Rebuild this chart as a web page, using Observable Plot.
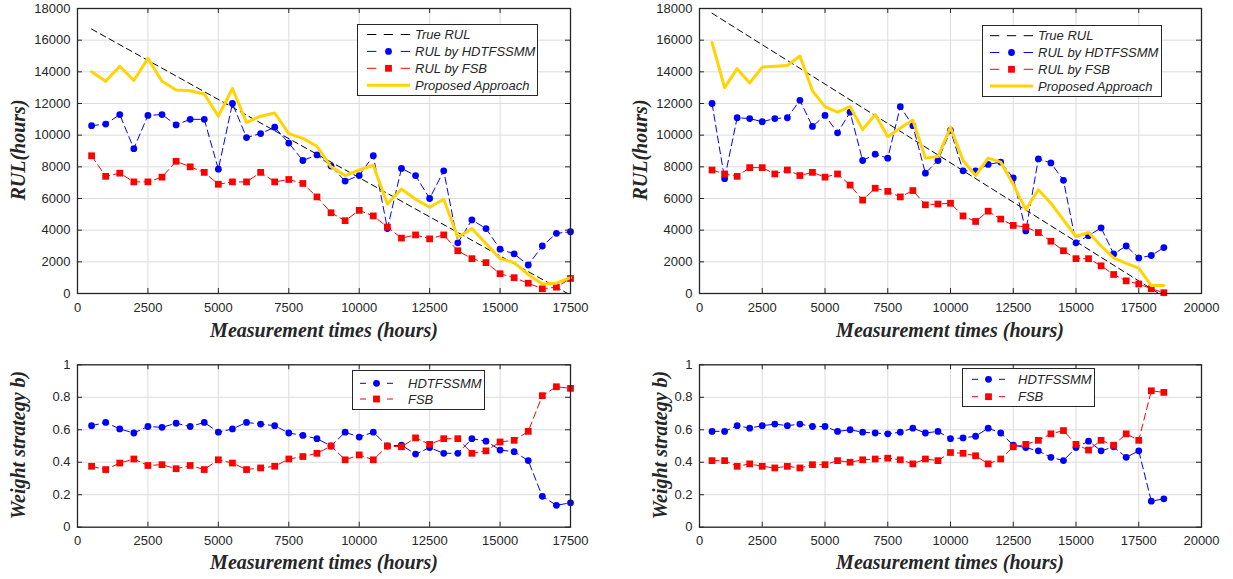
<!DOCTYPE html>
<html><head><meta charset="utf-8">
<script src="https://cdn.jsdelivr.net/npm/d3@7"></script>
<script src="https://cdn.jsdelivr.net/npm/@observablehq/plot@0.6"></script>
<style>
body{margin:0;background:#fff;}
#root{position:relative;width:1233px;height:579px;overflow:hidden;background:#fff;font-family:"Liberation Sans",Arial,sans-serif;}
.panel{position:absolute;}
.title{position:absolute;font-family:"Liberation Serif","Times New Roman",serif;font-weight:bold;font-style:italic;font-size:20px;color:#262626;white-space:nowrap;transform:translate(-50%,-50%);line-height:1;}
.vtitle{transform:translate(-50%,-50%) rotate(-90deg);}
.legend{position:absolute;border:1px solid #262626;background:#fff;box-sizing:border-box;}
</style></head>
<body><div id="root"></div>
<script>
// ---------- DATA ----------
const timesL = [500,1000,1500,2000,2500,3000,3500,4000,4500,5000,5500,6000,6500,7000,7500,8000,8500,9000,9500,10000,10500,11000,11500,12000,12500,13000,13500,14000,14500,15000,15500,16000,16500,17000,17500];
const timesR = [500,1000,1500,2000,2500,3000,3500,4000,4500,5000,5500,6000,6500,7000,7500,8000,8500,9000,9500,10000,10500,11000,11500,12000,12500,13000,13500,14000,14500,15000,15500,16000,16500,17000,17500,18000,18500];

const trueTimesL = [500, 17400];
const trueRulL = [16700, 0];
const trueTimesR = [500, 18300];
const trueRulR = [17700, 0];

const rulHdtL = [10600,10700,11300,9150,11250,11300,10650,11000,11000,7850,12000,9850,10100,10500,9500,8400,8750,8050,7100,7450,8700,4100,7900,7450,6000,7750,3200,4650,4100,2800,2500,1800,3000,3800,3900];
const rulFsbL = [8700,7400,7600,7050,7050,7350,8350,8000,7650,6900,7050,7050,7650,7050,7200,6950,6100,5100,4600,5250,4900,4200,3500,3700,3450,3700,2700,2200,1950,1250,1000,650,300,400,950];
const rulPropL = [14000,13400,14350,13450,14850,13400,12850,12800,12600,11200,12950,10800,11200,11400,10100,9800,9300,8000,7450,7800,8100,5650,6600,5950,5450,5950,3550,4100,3150,2200,1950,1200,600,650,1000];

const rulHdtR = [12000,7250,11100,11050,10850,11050,11100,12200,10550,11250,10150,11450,8400,8800,8550,11800,10600,7600,8400,10300,7750,7750,8150,8300,7300,3950,8500,8250,7150,3200,3650,4150,2500,3000,2250,2400,2900];
const rulFsbR = [7800,7550,7400,7950,7950,7550,7800,7450,7650,7350,7550,6850,5900,6650,6450,6100,6500,5600,5650,5700,4900,4550,5200,4700,4300,4200,3850,3300,2700,2200,2200,1750,1200,800,600,300,50];
const rulPropR = [15850,13000,14200,13300,14300,14350,14400,15000,12800,11800,11450,11800,10350,11300,9900,10450,10950,8550,8650,10500,8400,7450,8550,8300,6900,5300,6550,5700,4650,3600,3850,3000,2250,1900,1600,500,500];

const wHdtL = [0.625,0.645,0.605,0.58,0.62,0.615,0.64,0.62,0.645,0.585,0.605,0.645,0.635,0.625,0.58,0.565,0.545,0.50,0.585,0.555,0.585,0.50,0.505,0.45,0.49,0.455,0.455,0.545,0.53,0.475,0.465,0.41,0.19,0.135,0.15];
const wFsbL = [0.375,0.355,0.395,0.42,0.38,0.385,0.36,0.38,0.355,0.415,0.395,0.355,0.365,0.375,0.42,0.435,0.455,0.50,0.415,0.445,0.415,0.50,0.495,0.55,0.51,0.545,0.545,0.455,0.47,0.525,0.535,0.59,0.81,0.865,0.855];
const wHdtR = [0.59,0.59,0.625,0.61,0.625,0.635,0.625,0.635,0.62,0.62,0.59,0.60,0.585,0.58,0.575,0.585,0.61,0.58,0.59,0.545,0.55,0.56,0.61,0.58,0.505,0.49,0.47,0.43,0.41,0.49,0.53,0.47,0.495,0.43,0.47,0.16,0.175];
const wFsbR = [0.41,0.41,0.375,0.39,0.375,0.365,0.375,0.365,0.385,0.385,0.41,0.40,0.415,0.42,0.425,0.415,0.39,0.42,0.41,0.46,0.455,0.44,0.39,0.42,0.495,0.51,0.535,0.575,0.595,0.51,0.475,0.535,0.505,0.575,0.535,0.84,0.83];

const xTicksL = [0,2500,5000,7500,10000,12500,15000,17500];
const xTicksR = [0,2500,5000,7500,10000,12500,15000,17500,20000];
const yTicksRul = [0,2000,4000,6000,8000,10000,12000,14000,16000,18000];
const yTicksW = [0,0.2,0.4,0.6,0.8,1];

const labelsRul = ["True RUL","RUL by HDTFSSMM","RUL by FSB","Proposed Approach"];
const labelsW = ["HDTFSSMM","FSB"];
const xTitle = "Measurement times (hours)";
const yTitleRul = "RUL(hours)";
const yTitleW = "Weight strategy b)";

// ---------- STYLE ----------
const BLUE = "#0000ff", RED = "#ff0000", YELLOW = "#ffd400", INK = "#262626", GRID = "#dcdcdc";
const DASH = "7,4";

const root = document.getElementById("root");

function panel(cfg) {
  const iw = cfg.width - cfg.ml - cfg.mr;
  const ih = cfg.height - cfg.mt - cfg.mb;
  const marks = [
    Plot.gridX(cfg.xTicks, {stroke: GRID, strokeOpacity: 1, strokeWidth: 1}),
    Plot.gridY(cfg.yTicks, {stroke: GRID, strokeOpacity: 1, strokeWidth: 1}),
    ...cfg.series,
    Plot.ruleX(cfg.xTicks, {x: d => d, insetTop: ih - 5, stroke: INK, strokeWidth: 1}),
    Plot.ruleX(cfg.xTicks, {x: d => d, insetBottom: ih - 5, stroke: INK, strokeWidth: 1}),
    Plot.ruleY(cfg.yTicks, {y: d => d, insetRight: iw - 5, stroke: INK, strokeWidth: 1}),
    Plot.ruleY(cfg.yTicks, {y: d => d, insetLeft: iw - 5, stroke: INK, strokeWidth: 1}),
    Plot.frame({stroke: INK, strokeWidth: 1.3}),
    Plot.axisX(cfg.xTicks, {tickSize: 0, tickPadding: 9, tickFormat: d => String(d), label: null, fill: INK}),
    Plot.axisY(cfg.yTicks, {tickSize: 0, tickPadding: 7, tickFormat: d => String(d), label: null, fill: INK})
  ];
  const svg = Plot.plot({
    width: cfg.width, height: cfg.height,
    marginLeft: cfg.ml, marginRight: cfg.mr, marginTop: cfg.mt, marginBottom: cfg.mb,
    x: {domain: cfg.xDomain, label: null},
    y: {domain: cfg.yDomain, label: null},
    style: {fontFamily: "'Liberation Sans', Arial, sans-serif", fontSize: "13px", color: INK, background: "transparent", overflow: "visible"},
    marks
  });
  const div = document.createElement("div");
  div.className = "panel";
  div.style.left = cfg.left + "px";
  div.style.top = cfg.top + "px";
  div.appendChild(svg);
  root.appendChild(div);
}

function seriesLine(times, vals, color, dash, w) {
  return Plot.line(vals, {x: (d, i) => times[i], y: d => d, stroke: color, strokeWidth: w, strokeDasharray: dash});
}
function seriesDots(times, vals, color, symbol, r) {
  return Plot.dot(vals, {x: (d, i) => times[i], y: d => d, fill: color, stroke: "none", symbol, r});
}

function rulSeries(tt, tv, times, hdt, fsb, prop) {
  return [
    seriesLine(tt, tv, "#000", "6,4", 1),
    seriesLine(times, hdt, BLUE, DASH, 1),
    seriesDots(times, hdt, BLUE, "circle", 3.4),
    seriesLine(times, fsb, RED, DASH, 1),
    seriesDots(times, fsb, RED, "square", 3.8),
    seriesLine(times, prop, YELLOW, null, 3)
  ];
}
function wSeries(times, hdt, fsb) {
  return [
    seriesLine(times, hdt, BLUE, DASH, 1),
    seriesDots(times, hdt, BLUE, "circle", 3.4),
    seriesLine(times, fsb, RED, DASH, 1),
    seriesDots(times, fsb, RED, "square", 3.8)
  ];
}

panel({left: 0, top: 0, width: 620, height: 322, ml: 77, mr: 50, mt: 8, mb: 29,
  xDomain: [0, 17500], yDomain: [0, 18000], xTicks: xTicksL, yTicks: yTicksRul,
  series: rulSeries(trueTimesL, trueRulL, timesL, rulHdtL, rulFsbL, rulPropL)});
panel({left: 616, top: 0, width: 617, height: 322, ml: 83, mr: 32, mt: 8, mb: 29,
  xDomain: [0, 20000], yDomain: [0, 18000], xTicks: xTicksR, yTicks: yTicksRul,
  series: rulSeries(trueTimesR, trueRulR, timesR, rulHdtR, rulFsbR, rulPropR)});
panel({left: 0, top: 345, width: 620, height: 210, ml: 77, mr: 50, mt: 19.3, mb: 28.3,
  xDomain: [0, 17500], yDomain: [0, 1], xTicks: xTicksL, yTicks: yTicksW,
  series: wSeries(timesL, wHdtL, wFsbL)});
panel({left: 616, top: 345, width: 617, height: 210, ml: 83, mr: 32, mt: 19.3, mb: 28.3,
  xDomain: [0, 20000], yDomain: [0, 1], xTicks: xTicksR, yTicks: yTicksW,
  series: wSeries(timesR, wHdtR, wFsbR)});

// ---------- TITLES ----------
function title(text, x, y, vertical) {
  const d = document.createElement("div");
  d.className = "title" + (vertical ? " vtitle" : "");
  d.textContent = text;
  d.style.left = x + "px";
  d.style.top = y + "px";
  root.appendChild(d);
}
title(xTitle, 324, 330);
title(xTitle, 950, 330);
title(xTitle, 324, 562);
title(xTitle, 950, 562);
title(yTitleRul, 18, 150, true);
title(yTitleRul, 640, 150, true);
title(yTitleW, 18, 445, true);
title(yTitleW, 660, 445, true);

// ---------- LEGENDS ----------
const NS = "http://www.w3.org/2000/svg";
function el(name, attrs) {
  const e = document.createElementNS(NS, name);
  for (const k in attrs) e.setAttribute(k, attrs[k]);
  return e;
}
function legend(box, labels, styles) {
  const d = document.createElement("div");
  d.className = "legend";
  Object.assign(d.style, {left: box.x + "px", top: box.y + "px", width: box.w + "px", height: box.h + "px"});
  const svg = el("svg", {width: box.w, height: box.h});
  svg.style.position = "absolute"; svg.style.left = "-1px"; svg.style.top = "-1px"; svg.style.overflow = "visible";
  labels.forEach((lab, i) => {
    const s = styles[i];
    const cy = box.row0 + i * box.dy;
    const ln = el("line", {x1: box.sx1, x2: box.sx2, y1: cy, y2: cy, stroke: s.color, "stroke-width": s.w});
    if (s.dash) {
      const L = box.sx2 - box.sx1;
      const dsh = (L - 2 * 7.5) / 3;
      ln.setAttribute("stroke-dasharray", dsh + "," + 7.5);
    }
    svg.appendChild(ln);
    const cx = (box.sx1 + box.sx2) / 2;
    if (s.symbol) svg.appendChild(el("rect", {x: cx - 6, y: cy - 2, width: 12, height: 4, fill: "#fff"}));
    if (s.symbol === "circle") svg.appendChild(el("circle", {cx, cy, r: 3.4, fill: s.color}));
    if (s.symbol === "square") svg.appendChild(el("rect", {x: cx - 3.4, y: cy - 3.4, width: 6.8, height: 6.8, fill: s.color}));
    const t = el("text", {x: box.tx, y: cy, "dominant-baseline": "central", fill: INK,
      "font-family": "'Liberation Sans', Arial, sans-serif", "font-size": "13", "font-style": "italic"});
    t.textContent = lab;
    svg.appendChild(t);
  });
  d.appendChild(svg);
  root.appendChild(d);
}
const rulStyles = [
  {color: "#000", dash: true, w: 1},
  {color: BLUE, dash: true, w: 1, symbol: "circle"},
  {color: RED, dash: true, w: 1, symbol: "square"},
  {color: YELLOW, dash: false, w: 3}
];
const wStyles = [rulStyles[1], rulStyles[2]];
legend({x: 357, y: 24, w: 181, h: 72, row0: 10.5, dy: 16.9, sx1: 10, sx2: 53, tx: 58}, labelsRul, rulStyles);
legend({x: 982, y: 25, w: 180, h: 72, row0: 10.7, dy: 16.8, sx1: 8, sx2: 51, tx: 56}, labelsRul, rulStyles);
legend({x: 352, y: 370, w: 133, h: 40, row0: 13.3, dy: 15.7, sx1: 8, sx2: 41, tx: 56}, labelsW, wStyles);
legend({x: 962, y: 368, w: 133, h: 39, row0: 11.3, dy: 17.4, sx1: 10, sx2: 43, tx: 56}, labelsW, wStyles);
</script>
</body></html>
